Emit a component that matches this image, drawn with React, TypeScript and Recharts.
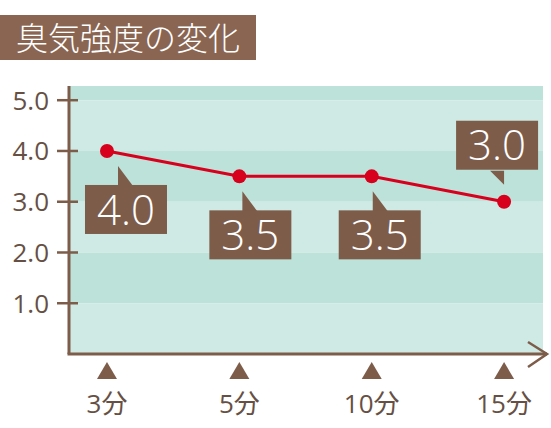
import React from 'react';
import { LineChart, Line, XAxis, YAxis, ReferenceArea, ReferenceLine } from 'recharts';

const categories = ['3分', '5分', '10分', '15分'];
const intensity = [4.0, 3.5, 3.5, 3.0];
const yTicks = [1, 2, 3, 4, 5];
const title = '臭気強度の変化';

const data = categories.map((c, i) => ({ idx: i, name: c, value: intensity[i] }));
const xTicks = categories.map((_, i) => i);

// styling
const BROWN = '#7d5c4a';
const TITLE_BROWN = '#8a6652';
const TEXT = '#665044';
const RED = '#d7001d';
const DARK_BAND = '#bde2da';
const LIGHT_BAND = '#cfeae4';
const FONT = "'Open Sans', 'Noto Sans CJK JP', sans-serif";
const X_DOMAIN: [number, number] = [-0.287, 3.294];
const Y_DOMAIN: [number, number] = [0, 5.28];
const bands: [number, number, string][] = [
  [5, 5.28, DARK_BAND],
  [4, 5, LIGHT_BAND],
  [3, 4, DARK_BAND],
  [2, 3, LIGHT_BAND],
  [1, 2, DARK_BAND],
  [0, 1, LIGHT_BAND],
];
const labelAbove = [false, false, false, true];
const boxDx = [-22, -30, -33, -48];
const tipDx = [11, 3, 1, 0];
const BOX_W = 82;
const BOX_H = 49;

const YTick = (props: any) => {
  const { x, y, payload } = props;
  return (
    <g>
      <line x1={x - 12} x2={x + 9} y1={y} y2={y} stroke={BROWN} strokeWidth={2.5} />
      <text x={x - 20} y={y} dy="0.36em" textAnchor="end" fill={TEXT} fontSize={26} fontWeight={400} fontFamily={FONT}>
        {Number(payload.value).toFixed(1)}
      </text>
    </g>
  );
};

const XTick = (props: any) => {
  const { x, y, payload } = props;
  return (
    <g>
      <polygon points={`${x},${y + 8} ${x - 10},${y + 25} ${x + 10},${y + 25}`} fill={BROWN} />
      <text x={x} y={y + 59} textAnchor="middle" fill={TEXT} fontSize={26} fontWeight={400} fontFamily={FONT}>
        {categories[payload.value]}
      </text>
    </g>
  );
};

const AxisArrow = (props: any) => {
  const { x1, y1, x2 } = props;
  const tip = x2 + 4;
  return (
    <g>
      <line x1={x1 - 1.5} x2={tip} y1={y1} y2={y1} stroke={BROWN} strokeWidth={3} />
      <polyline points={`${tip - 19},${y1 - 12} ${tip},${y1} ${tip - 19},${y1 + 13}`} fill="none" stroke={BROWN} strokeWidth={2.5} />
    </g>
  );
};

const DotWithLabel = (props: any) => {
  const { cx, cy, index, value } = props;
  const above = labelAbove[index];
  const left = cx + boxDx[index];
  const tx = cx + tipDx[index];
  let top: number;
  let pointer: string;
  if (above) {
    top = cy - 32 - BOX_H;
    const ty = cy - 17;
    const bottom = top + BOX_H;
    pointer = `${tx},${ty} ${tx},${bottom + 1} ${tx - 14},${bottom + 1}`;
  } else {
    top = cy + 34;
    const ty = cy + 15;
    pointer = `${tx},${ty} ${tx + 15},${top + 1} ${tx},${top + 1}`;
  }
  const v = Array.isArray(value) ? value[1] : value;
  return (
    <g key={`dot-${index}`}>
      <circle cx={cx} cy={cy} r={7} fill={RED} />
      <polygon points={pointer} fill={BROWN} />
      <rect x={left} y={top} width={BOX_W} height={BOX_H} fill={BROWN} />
      <text x={left + BOX_W / 2} y={top + BOX_H / 2} dy="0.36em" textAnchor="middle" fill="#ffffff" fontSize={42} fontWeight={300} fontFamily={FONT}>
        {Number(v).toFixed(1)}
      </text>
    </g>
  );
};

export default function App() {
  return (
    <div style={{ position: 'absolute', left: 0, top: 0, width: 551, height: 428, background: '#ffffff' }}>
      <div
        style={{
          position: 'absolute',
          left: 0,
          top: 15,
          width: 256,
          height: 45,
          background: TITLE_BROWN,
          color: '#ffffff',
          fontFamily: FONT,
          fontWeight: 300,
          fontSize: 32,
          lineHeight: '45px',
          paddingLeft: 16,
          boxSizing: 'border-box',
          whiteSpace: 'nowrap',
        }}
      >
        {title}
      </div>
      <LineChart width={551} height={428} data={data} margin={{ top: 86, right: 8, bottom: 0, left: 0 }}>
        {bands.map(([a, b, c], i) => (
          <ReferenceArea key={i} y1={a} y2={b} fill={c} fillOpacity={1} stroke="none" ifOverflow="visible" />
        ))}
        <XAxis
          dataKey="idx"
          type="number"
          domain={X_DOMAIN}
          ticks={xTicks}
          allowDataOverflow
          height={74}
          axisLine={false}
          tickLine={false}
          tickSize={0}
          tickMargin={0}
          tick={<XTick />}
          interval={0}
        />
        <YAxis
          domain={Y_DOMAIN}
          ticks={yTicks}
          width={69}
          allowDataOverflow
          axisLine={{ stroke: BROWN, strokeWidth: 3 }}
          tickLine={false}
          tickSize={0}
          tickMargin={0}
          tick={<YTick />}
        />
        <ReferenceLine y={0} shape={<AxisArrow />} ifOverflow="visible" />
        <Line
          type="linear"
          dataKey="value"
          stroke={RED}
          strokeWidth={3}
          dot={DotWithLabel}
          activeDot={false}
          isAnimationActive={false}
        />
      </LineChart>
    </div>
  );
}
